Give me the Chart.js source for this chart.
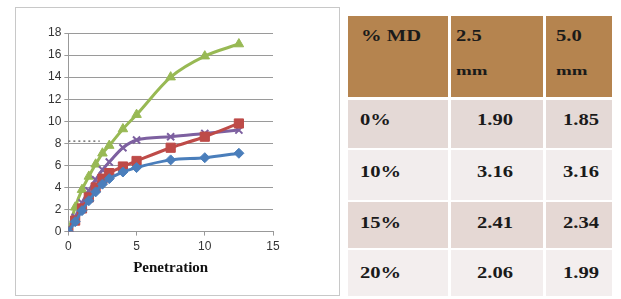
<!DOCTYPE html>
<html>
<head>
<meta charset="utf-8">
<script src="https://cdn.jsdelivr.net/npm/chart.js@4.4.0/dist/chart.umd.min.js"></script>
<style>
  html, body { margin: 0; padding: 0; background: #ffffff; }
  body { width: 621px; height: 299px; position: relative; overflow: hidden; }
  #panel { position: absolute; left: 15px; top: 7px; width: 325px; height: 289px; border: 1px solid #c8c8c8; box-sizing: border-box; background: #fff; }
  #panel canvas { position: absolute; left: 0; top: 0; }
  .cell { position: absolute; box-sizing: border-box; }
  .txt { position: absolute; font-family: "Times New Roman", "Liberation Serif", Tinos, Times, serif; font-weight: bold; color: #1a1a1a; font-size: 17px; white-space: nowrap; transform-origin: left center; line-height: 1; }
</style>
</head>
<body>
<div id="panel"><canvas id="c" width="323" height="287"></canvas></div>
<div id="table"></div>
<script>
// ---- chart data ----
const penetration = [0, 0.5, 1, 1.5, 2, 2.5, 3, 4, 5, 7.5, 10, 12.5];
const md0  = [0, 0.9, 1.9, 2.8, 3.6, 4.3, 4.8, 5.4, 5.8, 6.5, 6.7, 7.1];
const md10 = [0, 2.2, 3.8, 5.0, 6.1, 7.1, 7.8, 9.3, 10.6, 14.0, 15.9, 17.0];
const md15 = [0, 1.0, 2.1, 3.1, 4.0, 4.8, 5.3, 5.9, 6.4, 7.6, 8.6, 9.8];
const md20 = [0, 1.3, 2.6, 3.7, 4.7, 5.6, 6.3, 7.6, 8.3, 8.6, 8.9, 9.2];
const yTicks = [0, 2, 4, 6, 8, 10, 12, 14, 16, 18];
const xTicks = [0, 5, 10, 15];
const xTitle = "Penetration";
const refLineX = [0, 2.3];
const refLineY = [8.2, 8.2];

// ---- table data ----
const tableHeader1 = ["% MD", "2.5", "5.0"];
const tableHeader2 = ["", "mm", "mm"];
const tableRowLabels = ["0%", "10%", "15%", "20%"];
const tableCol25 = ["1.90", "3.16", "2.41", "2.06"];
const tableCol50 = ["1.85", "3.16", "2.34", "1.99"];

const SERIF = '"Times New Roman", "Liberation Serif", Tinos, Times, serif';
const NARROW = '"Liberation Sans Narrow", "Arial Narrow", "Liberation Sans", Arial, sans-serif';

function pts(ys) { return penetration.map((x, i) => ({ x: x, y: ys[i] })); }

const series = [
  { data: md0,  color: '#4A7EBB', style: 'rectRot', r: 5 },
  { data: md15, color: '#BE4B48', style: 'rect', r: 6.5 },
  { data: md20, color: '#7D60A0', style: 'crossRot', r: 5 },
  { data: md10, color: '#98B954', style: 'triangle', r: 5.5 }
];

const datasets = series.map(s => ({
  data: pts(s.data),
  borderColor: s.color,
  backgroundColor: s.color,
  borderWidth: 3,
  pointStyle: s.style,
  pointRadius: s.r,
  pointBorderWidth: s.style === 'crossRot' ? 2 : 1,
  showLine: true,
  cubicInterpolationMode: 'monotone'
}));
datasets.push({
  data: refLineX.map((x, i) => ({ x: x, y: refLineY[i] })),
  borderColor: '#555',
  borderWidth: 1.2,
  borderDash: [2, 3],
  pointRadius: 0,
  showLine: true
});

new Chart(document.getElementById('c'), {
  type: 'scatter',
  data: { datasets: datasets },
  options: {
    responsive: false,
    animation: false,
    layout: { padding: { left: 29, right: 66, top: 25, bottom: 18 } },
    plugins: { legend: { display: false }, tooltip: { enabled: false } },
    scales: {
      x: {
        type: 'linear', min: 0, max: 15,
        afterBuildTicks: ax => { ax.ticks = xTicks.map(v => ({ value: v })); },
        grid: { display: true, drawOnChartArea: false, drawTicks: true, tickLength: 4, color: '#999' },
        border: { display: true, color: '#999' },
        ticks: { color: '#333', font: { family: NARROW, size: 12 }, padding: 4 },
        title: { display: true, text: xTitle, color: '#111', font: { family: SERIF, size: 15, weight: 'bold' }, padding: { top: 1, bottom: 0 } }
      },
      y: {
        type: 'linear', min: 0, max: 18,
        afterBuildTicks: ax => { ax.ticks = yTicks.map(v => ({ value: v })); },
        grid: { display: true, color: '#9a9a9a', lineWidth: 1, drawTicks: true, tickLength: 4 },
        border: { display: true, color: '#999' },
        ticks: { color: '#333', font: { family: NARROW, size: 12 }, padding: 3 }
      }
    }
  }
});

// ---- table layout ----
const tbl = document.getElementById('table');
const colX = [348, 451, 546];
const colW = [100, 92, 66];
const rowsY = [16, 100, 150, 202, 250];
const rowsH = [81, 48, 50, 46, 46];
const rowColors = ['#B5844F', '#E4D9D6', '#F2EDED', '#E5D8D4', '#F3EEEE'];

// horizontal stretch so that "1.90" measures about 36px wide, as in the reference
const mctx = document.createElement('canvas').getContext('2d');
mctx.font = 'bold 17px ' + SERIF;
const stretch = 36 / mctx.measureText('1.90').width;

function addCell(x, y, w, h, bg) {
  const d = document.createElement('div');
  d.className = 'cell';
  d.style.left = x + 'px'; d.style.top = y + 'px';
  d.style.width = w + 'px'; d.style.height = h + 'px';
  d.style.background = bg;
  tbl.appendChild(d);
}
function addText(t, x, yc, size, sx) {
  const d = document.createElement('div');
  d.className = 'txt';
  d.textContent = t;
  d.style.left = x + 'px';
  d.style.top = (yc - (size || 17) / 2) + 'px';
  if (size) d.style.fontSize = size + 'px';
  d.style.transform = 'scaleX(' + (sx || stretch) + ')';
  tbl.appendChild(d);
}
for (let r = 0; r < 5; r++) {
  for (let c = 0; c < 3; c++) {
    addCell(colX[c], rowsY[r], colW[c], rowsH[r], rowColors[r]);
  }
}
addText(tableHeader1[0], 361, 35);
addText(tableHeader1[1], 456, 35);
addText(tableHeader1[2], 556, 35);
addText(tableHeader2[1], 456, 71, 12, stretch * 1.3);
addText(tableHeader2[2], 556, 71, 12, stretch * 1.3);
const rowYc = [119, 171, 222, 272];
for (let i = 0; i < 4; i++) {
  addText(tableRowLabels[i], 360, rowYc[i]);
  addText(tableCol25[i], 477, rowYc[i]);
  addText(tableCol50[i], 563, rowYc[i]);
}
</script>
</body>
</html>
